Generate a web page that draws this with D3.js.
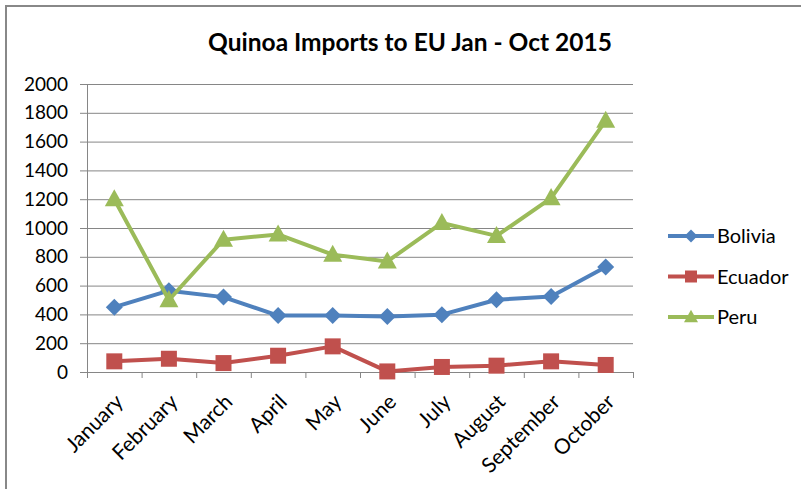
<!DOCTYPE html>
<html><head><meta charset="utf-8">
<script src="https://cdn.jsdelivr.net/npm/d3@7"></script>
<style>body{margin:0;background:#fff}svg{display:block}</style>
</head><body>
<script>
const months = ["January","February","March","April","May","June","July","August","September","October"];
const bolivia = [450, 565, 520, 392, 392, 386, 398, 502, 525, 729];
const ecuador = [74, 92, 62, 113, 178, 4, 35, 44, 74, 49];
const peru = [1200, 500, 919, 955, 815, 768, 1035, 945, 1208, 1745];
const yTicks = [0,200,400,600,800,1000,1200,1400,1600,1800,2000];
const seriesNames = ["Bolivia","Ecuador","Peru"];
const colors = ["#4F81BD","#C0504D","#9BBB59"];
const allSeries = [bolivia, ecuador, peru];

const W=801,H=489;
const font = "Lato, 'Open Sans', sans-serif";
const svg = d3.select("body").append("svg").attr("width",W).attr("height",H);
svg.append("rect").attr("width",W).attr("height",H).attr("fill","#fff");
svg.append("path").attr("d","M6,489 V6 H801").attr("fill","none").attr("stroke","#888").attr("stroke-width",2);

const L=87,R=633,T=84,B=372;
const x = d3.scaleBand().domain(months).range([L,R]);
const y = d3.scaleLinear().domain([0,2000]).range([B,T]);

svg.append("text").attr("x",410).attr("y",51).attr("text-anchor","middle")
  .attr("font-family",font).attr("font-weight","bold").attr("font-size",24.5).attr("fill","#000")
  .text("Quinoa  Imports to EU Jan - Oct 2015");

const yAx = svg.append("g").attr("transform",`translate(${L},0)`)
  .call(d3.axisLeft(y).tickValues(yTicks).tickSize(-(R-L)).tickFormat(d3.format("d")));
yAx.select(".domain").remove();
yAx.selectAll(".tick line").attr("stroke","#868686").attr("x1",-7);
yAx.selectAll(".tick text").attr("font-family",font).attr("font-size",19).attr("fill","#000").attr("x",-19);
svg.append("line").attr("x1",L+0.5).attr("x2",L+0.5).attr("y1",T).attr("y2",B).attr("stroke","#868686");

const xAx = svg.append("g").attr("transform",`translate(0,${B})`)
  .call(d3.axisBottom(x).tickSize(0).tickPadding(0));
xAx.select(".domain").attr("stroke","#868686").attr("d",`M${L},0.5H${R}`);
const bounds = months.map(m=>x(m)).concat([R]);
svg.append("g").selectAll("line").data(bounds).join("line")
  .attr("x1",d=>d+0.5).attr("x2",d=>d+0.5).attr("y1",B).attr("y2",B+6).attr("stroke","#868686");
xAx.selectAll(".tick text").attr("font-family",font).attr("font-size",21).attr("fill","#000")
  .attr("text-anchor","end").attr("dy","0.35em")
  .attr("transform","translate(5,26) rotate(-45)");

const diamond = s => `M0,${-s}L${s},0L0,${s}L${-s},0Z`;
const square = s => `M${-s},${-s}H${s}V${s}H${-s}Z`;
const tri = s => `M0,${-s*1.05}L${s},${s*0.75}L${-s},${s*0.75}Z`;
const markers = [()=>diamond(8.5), ()=>square(8), ()=>tri(9.5)];
const legMarkers = [()=>diamond(6.5), ()=>square(6), ()=>tri(7)];

const line = d3.line().x((d,i)=>x(months[i])+x.bandwidth()/2).y(d=>y(d));
allSeries.forEach((s,k)=>{
  const g = svg.append("g");
  g.append("path").datum(s).attr("d",line).attr("fill","none").attr("stroke",colors[k]).attr("stroke-width",4).attr("stroke-linejoin","round");
  g.selectAll("path.m").data(s).join("path").attr("class","m")
    .attr("transform",(d,i)=>`translate(${x(months[i])+x.bandwidth()/2},${y(d)})`)
    .attr("d",markers[k]).attr("fill",colors[k]);
});

const lg = svg.append("g");
seriesNames.forEach((n,k)=>{
  const yy = 236 + k*40.5;
  lg.append("line").attr("x1",668).attr("x2",714).attr("y1",yy).attr("y2",yy).attr("stroke",colors[k]).attr("stroke-width",4);
  lg.append("path").attr("transform",`translate(691,${yy})`).attr("d",legMarkers[k]).attr("fill",colors[k]);
  lg.append("text").attr("x",717).attr("y",yy).attr("dy","0.36em").attr("font-family",font).attr("font-size",20).attr("fill","#000").text(n);
});
</script>
</body></html>
